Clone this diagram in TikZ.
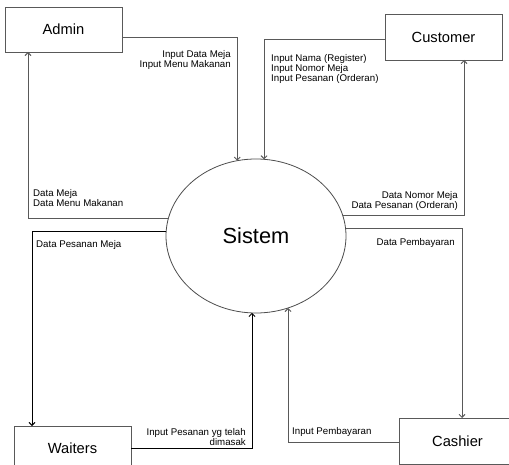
\documentclass[tikz,border=0pt]{standalone}
\usepackage{fontspec}
\setmainfont{Liberation Sans}
\usetikzlibrary{arrows.meta,shapes.geometric}
\begin{document}
\begin{tikzpicture}[x=1pt,y=-1pt,
  entity/.style={draw=black!65,line width=0.9pt,fill=white,minimum width=117pt,
    minimum height=45pt,inner sep=0pt,outer sep=0pt,font=\fontsize{14.7}{17}\selectfont},
  process/.style={ellipse,draw=black!70,line width=0.8pt,minimum width=180pt,
    minimum height=154pt,inner sep=0pt,outer sep=0pt,font=\fontsize{21.8}{26}\selectfont},
  flow/.style={draw=black!65,line width=0.9pt,-{Straight Barb[length=3pt,width=6pt]}},
  flowdark/.style={flow,draw=black},
  lbl/.style={inner sep=0pt,font=\fontsize{9.7}{10}\selectfont}]
\useasboundingbox (0,0) rectangle (509,465);

% external entities and the central process
\node[entity] (A) at (63.5,29.5) {Admin};
\node[entity,minimum height=46pt] (C) at (443.5,37) {Customer};
\node[entity] (W) at (72.5,448.5) {Waiters};
\node[entity,minimum height=46pt] (K) at (457.5,441) {Cashier};
\node[process] (S) at (256,236) {Sistem};

% data flows
\draw[flow] ([yshift=-7.5pt]A.east) -| (S.104.9);
\draw[flow] ([yshift=-2pt]C.west) -| (S.84);
\draw[flow] (S.169.7) -| ([xshift=-35.5pt]A.south);
\draw[flowdark] (S.177.5) -| ([xshift=-40.5pt]W.north);
\draw[flowdark] (W.east) -| (S.-93);
\draw[flow] (S.13) -| ([xshift=20.5pt]C.south);
\draw[flow] (S.5.1) -| ([xshift=4.5pt]K.north);
\draw[flow] ([yshift=-1pt]K.west) -| (S.-66.8);

% flow labels
\node[lbl,anchor=north east,align=right] (l1) at (231,50) {Input Data Meja\\Input Menu Makanan};
\node[lbl,anchor=north west,align=left] (l2) at (271,54) {Input Nama (Register)\\Input Nomor Meja\\Input Pesanan (Orderan)};
\node[lbl,anchor=north west,align=left] (l3) at (33,189) {Data Meja\\Data Menu Makanan};
\node[lbl,anchor=north west] (l4) at (36,240) {Data Pesanan Meja};
\node[lbl,anchor=north east,align=right] (l5) at (246,428) {Input Pesanan yg telah\\dimasak};
\node[lbl,anchor=north east,align=right] (l6) at (458,191) {Data Nomor Meja\\Data Pesanan (Orderan)};
\node[lbl,anchor=north east] (l7) at (455,238) {Data Pembayaran};
\node[lbl,anchor=north west] (l8) at (292,427) {Input Pembayaran};
\end{tikzpicture}
\end{document}
